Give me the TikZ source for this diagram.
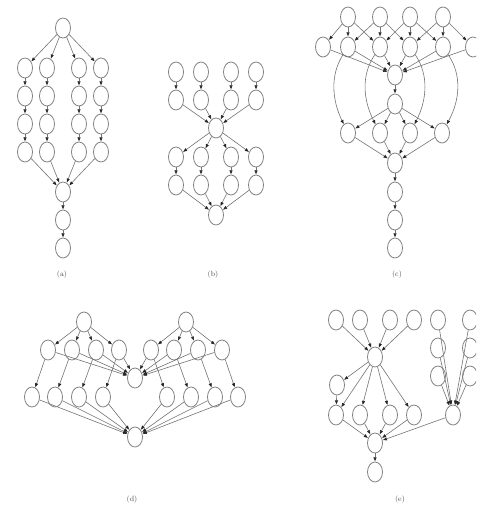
\documentclass[tikz,border=0pt]{standalone}
\usetikzlibrary{shapes.geometric,arrows.meta}
\begin{document}
\begin{tikzpicture}[x=1pt,y=-1pt,
  vtx/.style={ellipse,draw=black!50,line width=0.8pt,minimum width=15pt,minimum height=20pt,inner sep=0pt},
  edge/.style={draw=black!55,line width=0.6pt,-{Triangle[length=4pt,width=3pt,color=black!85]},shorten >=0.3pt},
  lbl/.style={font=\fontsize{7.5}{9}\selectfont,text=black!70}]
\useasboundingbox (0,0) rectangle (476,508);
\clip (0,0) rectangle (476,508);
% ---------------- (a)
\node[vtx] (a0) at (63,28) {};
\node[vtx] (am) at (63,192) {};
\node[vtx] (aq) at (63,220) {};
\node[vtx] (ar) at (63,248) {};
\foreach \c/\x in {1/25,2/47,3/79,4/101} {
  \foreach \r/\y in {1/68,2/96,3/124,4/152} {
    \node[vtx] (a\c\r) at (\x,\y) {};
  }
  \draw[edge] (a0) -- (a\c1);
  \draw[edge] (a\c1) -- (a\c2);
  \draw[edge] (a\c2) -- (a\c3);
  \draw[edge] (a\c3) -- (a\c4);
  \draw[edge] (a\c4) -- (am);
}
\draw[edge] (am) -- (aq);
\draw[edge] (aq) -- (ar);
\node[lbl] (la) at (62,275) {(a)};
% ---------------- (b)
\node[vtx] (bm) at (216,128) {};
\node[vtx] (bb) at (216,215) {};
\foreach \c/\x in {1/176,2/201,3/231,4/256} {
  \foreach \r/\y in {1/72,2/100,3/157,4/185} {
    \node[vtx] (b\c\r) at (\x,\y) {};
  }
  \draw[edge] (b\c1) -- (b\c2);
  \draw[edge] (b\c2) -- (bm);
  \draw[edge] (bm) -- (b\c3);
  \draw[edge] (b\c3) -- (b\c4);
  \draw[edge] (b\c4) -- (bb);
}
\node[lbl] (lb) at (213,275) {(b)};
% ---------------- (c)
\foreach \i/\x in {0/323,1/348,2/380,3/410,4/443,5/473} {
  \node[vtx] (cr\i) at (\x,47) {};
}
\foreach \i/\x in {1/348,2/380,3/410,4/443} {
  \node[vtx] (ct\i) at (\x,17) {};
}
\node[vtx] (cm) at (395,75) {};
\node[vtx] (cn) at (395,104) {};
\foreach \i/\x in {0/348,1/380,2/410,3/442} {
  \node[vtx] (cf\i) at (\x,133) {};
}
\node[vtx] (cj) at (395,163) {};
\node[vtx] (ck) at (395,192) {};
\node[vtx] (cl) at (395,220) {};
\node[vtx] (co) at (395,248) {};
\foreach \i [evaluate=\i as \l using int(\i-1), evaluate=\i as \r using int(\i+1)] in {1,2,3,4} {
  \draw[edge] (ct\i) -- (cr\l);
  \draw[edge] (ct\i) -- (cr\i);
  \draw[edge] (ct\i) -- (cr\r);
}
\foreach \i in {0,...,5} { \draw[edge] (cr\i) -- (cm); }
\draw[edge] (cm) -- (cn);
\foreach \i in {0,...,3} { \draw[edge] (cn) -- (cf\i); \draw[edge] (cf\i) -- (cj); }
\draw[edge] (cr1) .. controls (330,75) and (332,100) .. (cf0);
\draw[edge] (cr2) .. controls (361,75) and (363,100) .. (cf1);
\draw[edge] (cr3) .. controls (429,75) and (427,100) .. (cf2);
\draw[edge] (cr4) .. controls (462,75) and (460,100) .. (cf3);
\draw[edge] (cj) -- (ck);
\draw[edge] (ck) -- (cl);
\draw[edge] (cl) -- (co);
\node[lbl] (lc) at (397,275) {(c)};
% ---------------- (d)
\node[vtx] (dt1) at (84,322) {};
\node[vtx] (dt2) at (186,322) {};
\node[vtx] (dm) at (135,378) {};
\node[vtx] (db) at (135,437) {};
\foreach \i/\x/\z in {1/48/32,2/72/55,3/96/79,4/119/103} {
  \node[vtx] (ds\i) at (\x,350) {};
  \node[vtx] (dq\i) at (\z,397) {};
  \draw[edge] (dt1) -- (ds\i);
  \draw[edge] (ds\i) -- (dm);
  \draw[edge] (ds\i) -- (dq\i);
  \draw[edge] (dq\i) -- (db);
}
\foreach \i/\x/\z in {5/151/167,6/174/191,7/198/215,8/222/238} {
  \node[vtx] (ds\i) at (\x,350) {};
  \node[vtx] (dq\i) at (\z,397) {};
  \draw[edge] (dt2) -- (ds\i);
  \draw[edge] (ds\i) -- (dm);
  \draw[edge] (ds\i) -- (dq\i);
  \draw[edge] (dq\i) -- (db);
}
\node[lbl] (ld) at (132,500) {(d)};
% ---------------- (e)
\node[vtx] (em) at (375,357) {};
\node[vtx] (ea) at (337,385) {};
\node[vtx] (en) at (375,443) {};
\node[vtx] (eo) at (375,472) {};
\node[vtx] (er) at (453,415) {};
\foreach \i/\x in {1/336,2/360,3/390,4/414} {
  \node[vtx] (et\i) at (\x,320) {};
  \node[vtx] (eb\i) at (\x,415) {};
  \draw[edge] (et\i) -- (em);
  \draw[edge] (em) -- (eb\i);
  \draw[edge] (eb\i) -- (en);
}
\draw[edge] (em) -- (ea);
\draw[edge] (ea) -- (eb1);
\foreach \c/\x in {1/438,2/470} {
  \foreach \r/\y in {1/320,2/348,3/376} {
    \node[vtx] (ec\c\r) at (\x,\y) {};
    \draw[edge] (ec\c\r) -- (er);
  }
}
\draw[edge] (er) -- (en);
\draw[edge] (en) -- (eo);
\node[lbl] (le) at (400,500) {(e)};
\end{tikzpicture}
\end{document}
